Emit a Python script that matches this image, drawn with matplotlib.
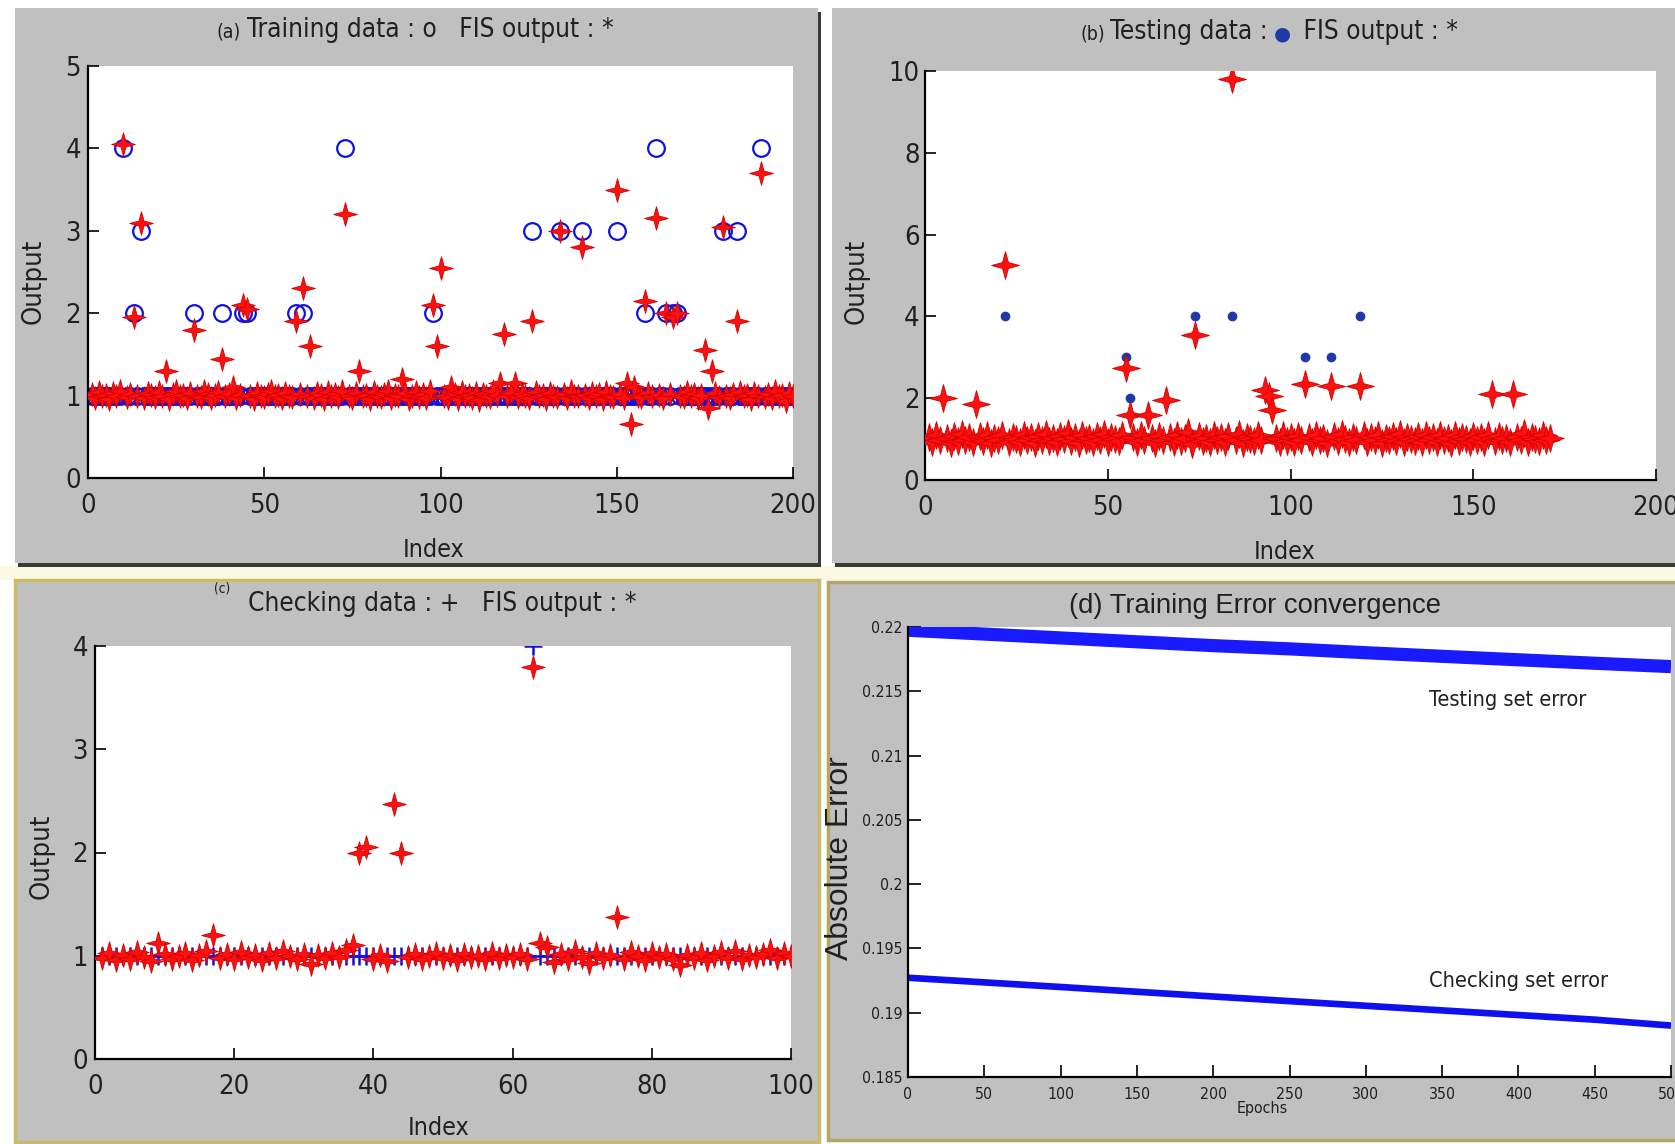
import numpy as np
import matplotlib
matplotlib.use("Agg")
import matplotlib.pyplot as plt
from matplotlib import font_manager
from matplotlib.font_manager import FontProperties
from matplotlib.patches import Rectangle
from matplotlib.path import Path
from matplotlib.offsetbox import TextArea, HPacker, AnnotationBbox

# ---- data ----
# (a) training data, index 1..200
train_target = [
    1, 1, 1, 1, 1, 1, 1, 1, 1, 4, 1, 1, 2, 1, 3, 1, 1, 1, 1, 1,
    1, 1, 1, 1, 1, 1, 1, 1, 1, 2, 1, 1, 1, 1, 1, 1, 1, 2, 1, 1,
    1, 1, 1, 2, 2, 1, 1, 1, 1, 1, 1, 1, 1, 1, 1, 1, 1, 1, 2, 1,
    2, 1, 1, 1, 1, 1, 1, 1, 1, 1, 1, 1, 4, 1, 1, 1, 1, 1, 1, 1,
    1, 1, 1, 1, 1, 1, 1, 1, 1, 1, 1, 1, 1, 1, 1, 1, 1, 2, 1, 1,
    1, 1, 1, 1, 1, 1, 1, 1, 1, 1, 1, 1, 1, 1, 1, 1, 1, 1, 1, 1,
    1, 1, 1, 1, 1, 3, 1, 1, 1, 1, 1, 1, 1, 3, 1, 1, 1, 1, 1, 3,
    1, 1, 1, 1, 1, 1, 1, 1, 1, 3, 1, 1, 1, 1, 1, 1, 1, 2, 1, 1,
    4, 1, 1, 2, 1, 2, 2, 1, 1, 1, 1, 1, 1, 1, 1, 1, 1, 1, 1, 3,
    1, 1, 1, 3, 1, 1, 1, 1, 1, 1, 4, 1, 1, 1, 1, 1, 1, 1, 1, 1,
]
train_fis = [
    1.02, 0.97, 1.04, 0.99, 1.01, 0.96, 1.03, 1.00, 1.05, 4.05, 0.98, 1.02, 1.95, 1.00, 3.10, 0.97, 1.03, 1.01, 0.98, 1.04,
    1.00, 1.30, 0.96, 1.02, 1.05, 0.99, 1.01, 0.97, 1.03, 1.80, 1.00, 0.98, 1.06, 1.02, 0.97, 1.01, 1.04, 1.45, 0.99, 1.02,
    1.10, 0.97, 1.01, 2.10, 2.05, 1.00, 0.96, 1.03, 1.00, 0.98, 1.02, 1.05, 0.99, 1.01, 0.97, 1.03, 1.00, 0.98, 1.90, 1.02,
    2.30, 1.00, 1.60, 0.97, 1.03, 1.01, 0.96, 1.04, 0.99, 1.02, 0.98, 1.05, 3.20, 1.00, 0.97, 1.03, 1.30, 0.99, 1.01, 0.96,
    1.04, 1.00, 0.98, 1.02, 1.06, 0.97, 1.01, 0.99, 1.20, 1.03, 0.96, 1.00, 1.04, 0.98, 1.02, 0.97, 1.05, 2.10, 1.60, 2.55,
    1.00, 0.97, 1.10, 1.02, 0.96, 1.04, 0.99, 1.01, 0.97, 1.03, 0.95, 1.02, 1.00, 0.98, 1.05, 1.01, 1.15, 1.75, 0.99, 1.03,
    1.15, 0.98, 1.02, 1.00, 0.97, 1.90, 1.04, 0.99, 1.01, 0.96, 1.03, 1.00, 0.98, 3.00, 1.02, 0.97, 1.05, 1.00, 0.99, 2.80,
    1.01, 0.97, 1.03, 0.99, 1.02, 0.96, 1.04, 1.00, 0.98, 3.50, 1.02, 0.97, 1.15, 0.65, 1.10, 1.00, 0.98, 2.15, 1.03, 0.99,
    3.15, 1.01, 0.97, 2.00, 1.02, 1.95, 2.00, 1.00, 0.98, 1.04, 0.99, 1.02, 0.97, 1.01, 1.55, 0.85, 1.30, 1.03, 0.98, 3.05,
    1.00, 0.97, 1.02, 1.90, 1.04, 0.99, 1.01, 0.96, 1.03, 1.00, 3.70, 0.98, 1.02, 0.97, 1.05, 0.99, 1.01, 0.94, 1.03, 1.00,
]

# (b) testing data, index 1..171
test_target = [
    1, 1, 1, 1, 1, 1, 1, 1, 1, 1, 1, 1, 1, 1, 1, 1, 1, 1, 1, 1,
    1, 4, 1, 1, 1, 1, 1, 1, 1, 1, 1, 1, 1, 1, 1, 1, 1, 1, 1, 1,
    1, 1, 1, 1, 1, 1, 1, 1, 1, 1, 1, 1, 1, 1, 3, 2, 1, 1, 1, 1,
    1, 1, 1, 1, 1, 1, 1, 1, 1, 1, 1, 1, 1, 4, 1, 1, 1, 1, 1, 1,
    1, 1, 1, 4, 1, 1, 1, 1, 1, 1, 1, 1, 1, 2, 1, 1, 1, 1, 1, 1,
    1, 1, 1, 3, 1, 1, 1, 1, 1, 1, 3, 1, 1, 1, 1, 1, 1, 1, 4, 1,
    1, 1, 1, 1, 1, 1, 1, 1, 1, 1, 1, 1, 1, 1, 1, 1, 1, 1, 1, 1,
    1, 1, 1, 1, 1, 1, 1, 1, 1, 1, 1, 1, 1, 1, 1, 1, 1, 1, 1, 1,
    1, 1, 1, 1, 1, 1, 1, 1, 1, 1, 1,
]
test_fis = [
    1.05, 0.92, 1.10, 0.97, 2.00, 1.02, 0.90, 1.08, 0.95, 1.12, 0.98, 1.04, 0.93, 1.85, 1.07, 0.96, 1.10, 0.91, 1.03, 0.99,
    1.09, 5.25, 0.94, 1.06, 1.00, 0.92, 1.11, 0.97, 1.04, 0.90, 1.08, 0.98, 1.13, 0.95, 1.02, 0.93, 1.07, 1.00, 1.15, 0.96,
    1.05, 0.91, 1.10, 0.99, 1.03, 0.94, 1.08, 0.97, 1.12, 0.92, 1.06, 1.00, 0.95, 1.09, 2.75, 1.60, 1.04, 0.93, 1.10, 0.97,
    1.60, 1.02, 0.90, 1.07, 0.98, 1.95, 1.05, 0.94, 1.11, 0.96, 1.03, 1.18, 0.88, 3.55, 1.08, 0.95, 1.02, 0.92, 1.10, 0.99,
    1.04, 0.93, 1.07, 9.80, 0.97, 1.12, 0.91, 1.05, 1.00, 0.95, 1.09, 0.98, 2.20, 2.05, 1.70, 1.03, 0.94, 1.10, 0.96, 1.06,
    0.92, 1.08, 0.99, 2.35, 1.04, 0.93, 1.11, 0.97, 1.02, 0.90, 2.30, 1.07, 0.95, 1.13, 1.00, 0.94, 1.06, 0.98, 2.30, 1.09,
    0.93, 1.05, 0.97, 1.10, 0.91, 1.03, 0.99, 1.08, 0.95, 1.12, 0.92, 1.04, 1.00, 0.96, 1.07, 0.93, 1.10, 0.98, 1.05, 0.94,
    1.09, 0.97, 1.02, 0.91, 1.11, 0.96, 1.06, 1.00, 0.93, 1.08, 0.98, 1.04, 0.92, 1.10, 2.10, 0.95, 1.07, 0.99, 1.03, 0.94,
    2.10, 1.06, 0.97, 1.15, 0.93, 1.05, 1.00, 0.96, 1.09, 0.98, 1.02,
]

# (c) checking data, index 1..100
check_target = [
    1, 1, 1, 1, 1, 1, 1, 1, 1, 1, 1, 1, 1, 1, 1, 1, 1, 1, 1, 1,
    1, 1, 1, 1, 1, 1, 1, 1, 1, 1, 1, 1, 1, 1, 1, 1, 1, 1, 1, 1,
    1, 1, 1, 1, 1, 1, 1, 1, 1, 1, 1, 1, 1, 1, 1, 1, 1, 1, 1, 1,
    1, 1, 4, 1, 1, 1, 1, 1, 1, 1, 1, 1, 1, 1, 1, 1, 1, 1, 1, 1,
    1, 1, 1, 1, 1, 1, 1, 1, 1, 1, 1, 1, 1, 1, 1, 1, 1, 1, 1, 1,
]
check_fis = [
    0.98, 1.03, 0.96, 1.01, 0.97, 1.04, 0.99, 0.95, 1.12, 1.02, 0.97, 1.00, 1.03, 0.96, 1.01, 1.05, 1.20, 0.98, 1.02, 0.97,
    1.04, 0.99, 1.01, 0.96, 1.03, 0.98, 1.05, 1.00, 0.97, 1.02, 0.92, 1.01, 0.98, 1.03, 0.99, 1.06, 1.10, 2.00, 2.05, 0.97,
    1.01, 0.95, 2.47, 2.00, 0.99, 1.02, 0.97, 1.00, 1.03, 0.98, 1.01, 0.96, 1.02, 0.99, 1.00, 0.97, 1.03, 0.98, 1.01, 0.99,
    1.02, 0.97, 3.80, 1.12, 1.08, 0.94, 1.02, 0.97, 1.05, 0.99, 0.93, 1.03, 0.98, 1.01, 1.38, 0.97, 1.04, 1.00, 0.96, 1.03,
    0.99, 1.02, 0.97, 0.91, 1.01, 0.98, 1.03, 0.96, 1.00, 1.04, 0.98, 1.05, 0.97, 1.01, 0.99, 1.02, 1.06, 0.98, 1.03, 1.00,
]

# (d) error curves, sampled every 50 epochs
epochs = [0, 50, 100, 150, 200, 250, 300, 350, 400, 450, 500]
testing_err = [0.21975, 0.21945, 0.21915, 0.21885, 0.21855, 0.21830, 0.21800, 0.21772, 0.21745, 0.21718, 0.21692]
checking_err = [0.19272, 0.19236, 0.19200, 0.19163, 0.19126, 0.19090, 0.19054, 0.19018, 0.18982, 0.18946, 0.18900]
err_yticks = [0.185, 0.19, 0.195, 0.2, 0.205, 0.21, 0.215, 0.22]
err_yticklabels = ["0.185", "0.19", "0.195", "0.2", "0.205", "0.21", "0.215", "0.22"]

W, H = 1675, 1144
fig = plt.figure(figsize=(W / 100, H / 100), dpi=100, facecolor="white")
renderer = fig.canvas.get_renderer()

# ---- fonts: look for a condensed face, else shrink a normal one ----
def pick_narrow():
    for f in font_manager.fontManager.ttflist:
        nm = f.name.lower()
        st = f.stretch
        narrow = ("narrow" in nm or "condensed" in nm or
                  (isinstance(st, str) and "condensed" in st) or
                  (isinstance(st, (int, float)) and st < 500))
        if narrow and f.style == "normal" and f.weight in (400, "normal", "regular", "book"):
            return FontProperties(fname=f.fname)
    return FontProperties(family="Liberation Sans")

NARROW_FP = pick_narrow()
REG_FP = FontProperties(family="Liberation Sans")

def width_px(s, base, size):
    p = base.copy()
    p.set_size(size)
    return renderer.get_text_width_height_descent(s, p, ismath=False)[0]

# scale factors so text widths match the picture
N_SCALE = min(1.0, 369 / width_px("Training data : o   FIS output : *", NARROW_FP, 23))
R_SCALE = min(1.1, 374 / width_px("(d) Training Error convergence", REG_FP, 19))

def nfp(size):
    p = NARROW_FP.copy()
    p.set_size(size * N_SCALE)
    return p

def rfp(size):
    p = REG_FP.copy()
    p.set_size(size * R_SCALE)
    return p

def fx(px):
    return px / W

def fy(py):
    return 1 - py / H

def panel(x0, y0, x1, y1, shadow=False, border=None):
    # gray MATLAB figure background, coords in pixels from top-left
    if shadow:
        fig.add_artist(Rectangle((fx(x0 + 3), fy(y1 + 4)), fx(x1 - x0), (y1 - y0) / H,
                                 transform=fig.transFigure, facecolor="#3a3a3a",
                                 edgecolor="none", zorder=-2))
    fig.add_artist(Rectangle((fx(x0), fy(y1)), fx(x1 - x0), (y1 - y0) / H,
                             transform=fig.transFigure, facecolor="#c0c0c0",
                             edgecolor=border if border else "none",
                             lw=2.5 if border else 0, zorder=-1))

# light yellow gap between the rows
fig.add_artist(Rectangle((0, fy(580)), 1, 14 / H, transform=fig.transFigure,
                         facecolor="#fbf9e2", edgecolor="none", zorder=-3))
panel(15, 8, 818, 563, shadow=True)
panel(832, 8, 1680, 563, shadow=True)
panel(15, 580, 819, 1142, border="#c9bb6a")
panel(828, 582, 1680, 1140, border="#b3a66a")

star = Path.unit_regular_star(4, 0.3)
INK = "#202020"

def add_axes(x0, y0, x1, y1):
    ax = fig.add_axes([fx(x0), fy(y1), fx(x1 - x0), (y1 - y0) / H])
    ax.set_facecolor("white")
    for s in ["top", "right"]:
        ax.spines[s].set_visible(False)
    for s in ["left", "bottom"]:
        ax.spines[s].set_linewidth(1.6)
    return ax

def style(ax, xlim, ylim, xticks, yticks, fs, xpad, ypad, tl=8, ylabels=None):
    ax.set_xlim(*xlim)
    ax.set_ylim(*ylim)
    ax.set_xticks(xticks)
    ax.set_xticklabels([str(t) for t in xticks], fontproperties=nfp(fs), color=INK)
    ax.set_yticks(yticks)
    if ylabels is None:
        ylabels = [str(t) for t in yticks]
    ax.set_yticklabels(ylabels, fontproperties=nfp(fs), color=INK)
    ax.tick_params(direction="in", length=tl, width=1.2)
    ax.tick_params(axis="x", pad=xpad)
    ax.tick_params(axis="y", pad=ypad)

def title(parts, x, y):
    boxes = []
    for txt, fp, color in parts:
        boxes.append(TextArea(txt, textprops=dict(fontproperties=fp, color=color)))
    pack = HPacker(children=boxes, align="baseline", pad=0, sep=4)
    ab = AnnotationBbox(pack, (fx(x), fy(y)), xycoords="figure fraction",
                        frameon=False, box_alignment=(0.5, 0.5), zorder=10)
    fig.add_artist(ab)

def label(x, y, s, fp, rot=0):
    fig.text(fx(x), fy(y), s, rotation=rot, ha="center", va="center", fontproperties=fp, color=INK)

# ---- (a) training ----
ax = add_axes(88, 66, 793, 478)
xa = np.arange(1, len(train_target) + 1)
ax.plot(xa, train_target, "o", ms=12, mfc="none", mec="#1010e0", mew=1.6, zorder=2)
ax.plot(xa, train_fis, ls="none", marker=star, ms=17, mfc="#ff1010", mec="#d00000", mew=0.6, zorder=3)
style(ax, (0, 200), (0, 5), [0, 50, 100, 150, 200], [0, 1, 2, 3, 4, 5], 24, 11, 5)
title([("(a)", nfp(17), INK), ("Training data : o   FIS output : *", nfp(23), INK)], 415, 30)
label(34, 281, "Output", nfp(24), 90)
label(434, 550, "Index", nfp(22))

# ---- (b) testing ----
ax = add_axes(925, 71, 1656, 480)
xb = np.arange(1, len(test_target) + 1)
ax.plot(xb, test_target, "o", ms=6, mfc="#1f3aa8", mec="#1f3aa8", zorder=2)
ax.plot(xb, test_fis, ls="none", marker=star, ms=20, mfc="#ff1010", mec="#d00000", mew=0.6, zorder=3)
style(ax, (0, 200), (0, 10), [0, 50, 100, 150, 200], [0, 2, 4, 6, 8, 10], 24, 11, 4)
title([("(b)", nfp(17), INK), ("Testing data :", nfp(23), INK),
       ("\u25cf", FontProperties(family="DejaVu Sans", size=14), "#1f3aa8"),
       (" FIS output : *", nfp(23), INK)], 1269, 32)
label(857, 281, "Output", nfp(24), 90)
label(1285, 552, "Index", nfp(22))

# ---- (c) checking ----
ax = add_axes(95, 646, 791, 1059)
xc = np.arange(1, len(check_target) + 1)
ax.plot(xc, check_target, "+", ms=13, mec="#1010e0", mew=1.8, zorder=2)
ax.plot(xc, check_fis, ls="none", marker=star, ms=17, mfc="#ff1010", mec="#d00000", mew=0.6, zorder=3)
style(ax, (0, 100), (0, 4), [0, 20, 40, 60, 80, 100], [0, 1, 2, 3, 4], 24, 11, 5)
label(222, 589, "(c)", nfp(12))
label(442, 604, "Checking data : +   FIS output : *", nfp(23))
label(42, 856, "Output", nfp(24), 90)
label(439, 1128, "Index", nfp(22))

# ---- (d) error convergence ----
ax = add_axes(908, 627, 1671, 1077)
ax.plot(epochs, testing_err, color="#1a1aff", lw=9.5, solid_capstyle="butt", zorder=2)
ax.plot(epochs, checking_err, color="#1010ee", lw=4.8, solid_capstyle="butt", zorder=2)
style(ax, (0, 500), (0.185, 0.22), epochs, err_yticks, 14, 7, 4, tl=9, ylabels=err_yticklabels)
ax.text(393, 0.21432, "Testing set error", ha="center", va="center", fontproperties=nfp(19), color=INK)
ax.text(400, 0.19247, "Checking set error", ha="center", va="center", fontproperties=nfp(19), color=INK)
label(1255, 606, "(d) Training Error convergence", rfp(19))
label(840, 858, "Absolute Error", rfp(22), 90)
label(1262, 1108, "Epochs", nfp(14))

fig.savefig("out.png", dpi=100, facecolor=fig.get_facecolor())
